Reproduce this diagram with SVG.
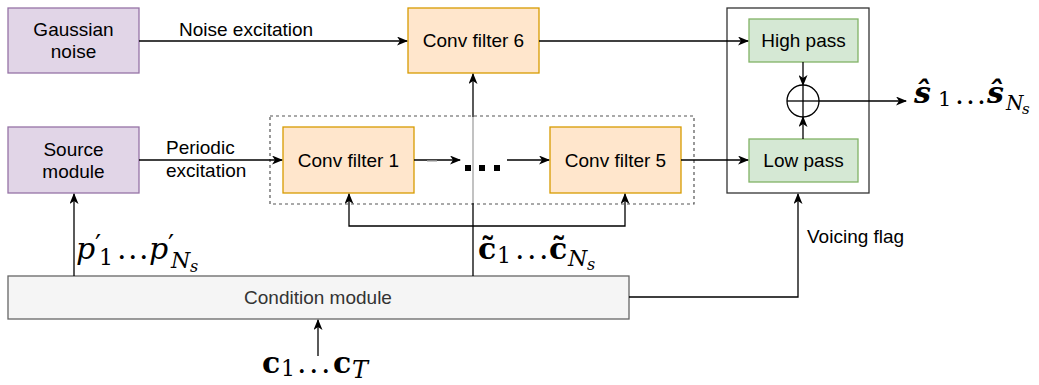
<svg xmlns="http://www.w3.org/2000/svg" width="1039" height="385" viewBox="0 0 1039 385">
<defs>
<marker id="arr" markerWidth="11" markerHeight="9" refX="10" refY="4.5" orient="auto" markerUnits="userSpaceOnUse">
<path d="M0,0 L11,4.5 L0,9 L3,4.5 z" fill="#000"/>
</marker>
<style>
.lbl{font-family:"Liberation Sans",Arial,sans-serif;font-size:19px;fill:#000;text-anchor:middle}
.lbll{font-family:"Liberation Sans",Arial,sans-serif;font-size:19px;fill:#000}
.purple{fill:#e1d5e7;stroke:#9673a6;stroke-width:1.3}
.orange{fill:#ffe6cc;stroke:#d79b00;stroke-width:1.3}
.green{fill:#d5e8d4;stroke:#82b366;stroke-width:1.3}
.con{fill:none;stroke:#000;stroke-width:1.3}
.math{font-family:"DejaVu Serif","Liberation Serif",serif;fill:#000}
.mi{font-style:italic}
.mb{font-weight:bold}
</style>
</defs>
<rect width="1039" height="385" fill="#fff"/>

<g id="gaussian-noise">
<rect class="purple" x="8" y="8" width="131" height="65"/>
<text class="lbl" x="73.5" y="36">Gaussian</text>
<text class="lbl" x="73.5" y="58">noise</text>
</g>

<g id="source-module">
<rect class="purple" x="8" y="127" width="131" height="66"/>
<text class="lbl" x="73.5" y="156">Source</text>
<text class="lbl" x="73.5" y="178">module</text>
</g>

<g id="filter-group">
<rect x="270" y="116" width="424" height="88" fill="none" stroke="#555" stroke-width="1.2" stroke-dasharray="3 3"/>
</g>

<g id="conv-filter-6">
<rect class="orange" x="408" y="8" width="131" height="65"/>
<text class="lbl" x="473.5" y="47">Conv filter 6</text>
</g>

<g id="conv-filter-1">
<rect class="orange" x="283" y="127" width="131" height="66"/>
<text class="lbl" x="348.5" y="167">Conv filter 1</text>
</g>

<g id="conv-filter-5">
<rect class="orange" x="550" y="127" width="131" height="66"/>
<text class="lbl" x="615.5" y="167">Conv filter 5</text>
</g>

<g id="ellipsis">
<rect x="465" y="165" width="6" height="6" fill="#000"/>
<rect x="479" y="165" width="6" height="6" fill="#000"/>
<rect x="494" y="165" width="6" height="6" fill="#000"/>
</g>

<g id="filter-bank">
<rect x="727" y="8" width="142" height="185" fill="#fff" stroke="#333" stroke-width="1.3"/>
</g>

<g id="high-pass">
<rect class="green" x="749" y="19" width="109" height="43"/>
<text class="lbl" x="803.5" y="47">High pass</text>
</g>

<g id="low-pass">
<rect class="green" x="749" y="139" width="109" height="43"/>
<text class="lbl" x="803.5" y="167">Low pass</text>
</g>

<g id="adder">
<circle cx="803" cy="101" r="16" fill="none" stroke="#000" stroke-width="1.3"/>
<line x1="787" y1="101" x2="819" y2="101" stroke="#000" stroke-width="1.3"/>
<line x1="803" y1="85" x2="803" y2="117" stroke="#000" stroke-width="1.3"/>
</g>

<g id="condition-module">
<rect x="8" y="276" width="621" height="43" fill="#f5f5f5" stroke="#666" stroke-width="1.3"/>
<text class="lbl" x="318" y="304" style="fill:#333">Condition module</text>
</g>

<g id="connectors">
<path class="con" d="M139,41 H407" marker-end="url(#arr)"/>
<path class="con" d="M539,41 H748" marker-end="url(#arr)"/>
<path class="con" d="M139,160 H282" marker-end="url(#arr)"/>
<path class="con" d="M414,160 H460" marker-end="url(#arr)"/>
<line x1="427" y1="161" x2="437" y2="161" stroke="#aaa" stroke-width="1.3"/>
<path class="con" d="M507,160 H549" marker-end="url(#arr)"/>
<path class="con" d="M681,160 H748" marker-end="url(#arr)"/>
<path class="con" d="M803,62 V85" marker-end="url(#arr)"/>
<path class="con" d="M803,139 V117" marker-end="url(#arr)"/>
<path class="con" d="M819,101 H906" marker-end="url(#arr)"/>
<path class="con" d="M74,276 V194" marker-end="url(#arr)"/>
<path class="con" d="M473,276 V74" marker-end="url(#arr)"/>
<line x1="473" y1="117" x2="473" y2="203" stroke="#ddd" stroke-width="1.6"/>
<path class="con" d="M473,226 H349 V194" stroke="#333" marker-end="url(#arr)"/>
<path class="con" d="M473,226 H625 V194" stroke="#333" marker-end="url(#arr)"/>
<path class="con" d="M629,297 H798 V194" stroke="#555" marker-end="url(#arr)"/>
<path class="con" d="M318,356 V320" stroke="#333" marker-end="url(#arr)"/>
</g>

<g id="labels">
<text class="lbll" x="179" y="36">Noise excitation</text>
<text class="lbll" x="166" y="154">Periodic</text>
<text class="lbll" x="166" y="177">excitation</text>
<text class="lbll" x="807" y="243">Voicing flag</text>
</g>

<g id="math">
<text class="math mi mb" x="914" y="103" font-size="30">ŝ</text>
<text class="math" x="938" y="106" font-size="21">1</text>
<text class="math" x="955 966 977" y="104" font-size="28">...</text>
<text class="math mi mb" x="987" y="103" font-size="30">ŝ</text>
<text class="math mi" x="1006" y="110" font-size="20">N</text>
<text class="math mi" x="1022" y="114" font-size="15">s</text>

<text class="math mi" x="76" y="259" font-size="30">p</text>
<text class="math" x="95" y="255" font-size="27">′</text>
<text class="math" x="99" y="265" font-size="22">1</text>
<text class="math" x="117 128 139" y="259" font-size="30">...</text>
<text class="math mi" x="149" y="259" font-size="30">p</text>
<text class="math" x="168" y="255" font-size="27">′</text>
<text class="math mi" x="171" y="268" font-size="22">N</text>
<text class="math mi" x="190" y="272" font-size="16">s</text>

<text class="math mb" x="478" y="259" font-size="30">c̃</text>
<text class="math" x="497" y="263" font-size="22">1</text>
<text class="math" x="515 527 539" y="259" font-size="30">...</text>
<text class="math mb" x="549" y="259" font-size="30">c̃</text>
<text class="math mi" x="568" y="266" font-size="22">N</text>
<text class="math mi" x="587" y="270" font-size="16">s</text>

<text class="math mb" x="262" y="373" font-size="30">c</text>
<text class="math" x="281" y="376" font-size="22">1</text>
<text class="math" x="297 309 321" y="373" font-size="30">...</text>
<text class="math mb" x="333" y="373" font-size="30">c</text>
<text class="math mi" x="352" y="378" font-size="24">T</text>
</g>
</svg>
